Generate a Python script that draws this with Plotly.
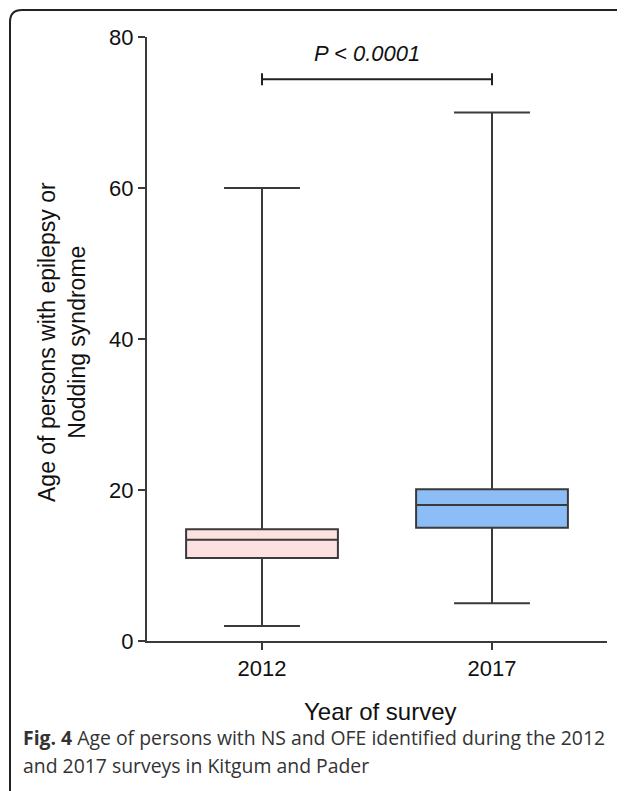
import plotly.graph_objects as go

# Data
years = ["2012", "2017"]
minimum = [2, 5]
q1 = [11.0, 15.0]
median = [13.4, 18.0]
q3 = [14.8, 20.1]
maximum = [60, 70]
fill_colors = ["#FDE1E1", "#8DBDF6"]
y_ticks = [0, 20, 40, 60, 80]
p_label = "P < 0.0001"
sig_y = 74.4

# The page adds an 8px body margin; work in screen pixels and compensate.
OFF = 8
W, H = 625 - OFF, 791 - OFF
L, R = 147 - OFF, 625 - 607
T = 37 - OFF
B = H - (641 - OFF)
pw, ph = W - L - R, H - T - B

def px_to_paper_x(px):
    return (px - OFF - L) / pw

def px_to_paper_y(py):
    return (H - B - (py - OFF)) / ph

fig = go.Figure()
line_col = "#3a3a3a"
for i, yr in enumerate(years):
    fig.add_trace(go.Box(
        x=[yr], q1=[q1[i]], median=[median[i]], q3=[q3[i]],
        lowerfence=[minimum[i]], upperfence=[maximum[i]],
        fillcolor=fill_colors[i],
        line=dict(color=line_col, width=2),
        whiskerwidth=0.5, width=0.66, boxpoints=False,
        showlegend=False, hoverinfo="skip",
    ))

# significance bracket
shapes = [
    dict(type="line", xref="x", yref="y", x0=0, x1=1, y0=sig_y, y1=sig_y,
         line=dict(color="#222", width=2)),
    dict(type="line", xref="x", yref="y", x0=0, x1=0, y0=sig_y - 0.8, y1=sig_y + 0.8,
         line=dict(color="#222", width=2)),
    dict(type="line", xref="x", yref="y", x0=1, x1=1, y0=sig_y - 0.8, y1=sig_y + 0.8,
         line=dict(color="#222", width=2)),
]

# rounded frame
x0, x1 = px_to_paper_x(10), px_to_paper_x(640)
y0, y1 = px_to_paper_y(10), px_to_paper_y(810)
rx, ry = 12 / pw, 12 / ph
path = (f"M {x0},{y1} L {x0},{y0 - ry} Q {x0},{y0} {x0 + rx},{y0} L {x1},{y0}")
shapes.append(dict(type="path", xref="paper", yref="paper", path=path,
                   line=dict(color="#222", width=2)))

annotations = [
    dict(text=f"<i>{p_label}</i>", xref="paper", yref="paper",
         x=px_to_paper_x(367), y=px_to_paper_y(53), xanchor="center", yanchor="middle",
         showarrow=False, font=dict(family="Liberation Sans, Arial", size=22, color="#111")),
    dict(text="Age of persons with epilepsy or<br>Nodding syndrome", xref="paper", yref="paper",
         x=px_to_paper_x(62), y=px_to_paper_y(342), xanchor="center", yanchor="middle",
         textangle=-90, showarrow=False,
         font=dict(family="Liberation Sans, Arial", size=23, color="#111")),
    dict(text="Year of survey", xref="paper", yref="paper",
         x=px_to_paper_x(380), y=px_to_paper_y(711), xanchor="center", yanchor="middle",
         showarrow=False, font=dict(family="Liberation Sans, Arial", size=24, color="#111")),
    dict(text="<b>Fig. 4</b> Age of persons with NS and OFE identified during the 2012",
         xref="paper", yref="paper", x=px_to_paper_x(21), y=px_to_paper_y(738),
         xanchor="left", yanchor="middle", showarrow=False,
         font=dict(family="Open Sans", size=19.4, color="#333")),
    dict(text="and 2017 surveys in Kitgum and Pader",
         xref="paper", yref="paper", x=px_to_paper_x(21), y=px_to_paper_y(766),
         xanchor="left", yanchor="middle", showarrow=False,
         font=dict(family="Open Sans", size=19.4, color="#333")),
]

fig.update_layout(
    width=W, height=H,
    margin=dict(l=L, r=R, t=T, b=B),
    paper_bgcolor="white", plot_bgcolor="white",
    boxmode="overlay",
    shapes=shapes, annotations=annotations,
    xaxis=dict(type="category", range=[-0.5, 1.5], showgrid=False, zeroline=False,
               showline=True, linecolor=line_col, linewidth=2,
               ticks="outside", ticklen=7, tickwidth=2, tickcolor=line_col,
               tickfont=dict(family="Liberation Sans, Arial", size=22, color="#111")),
    yaxis=dict(range=[0, 80], tickvals=y_ticks, showgrid=False, zeroline=False,
               showline=True, linecolor=line_col, linewidth=2,
               ticks="outside", ticklen=7, tickwidth=2, tickcolor=line_col,
               tickfont=dict(family="Liberation Sans, Arial", size=22, color="#111")),
)

fig.write_html("out.html")
